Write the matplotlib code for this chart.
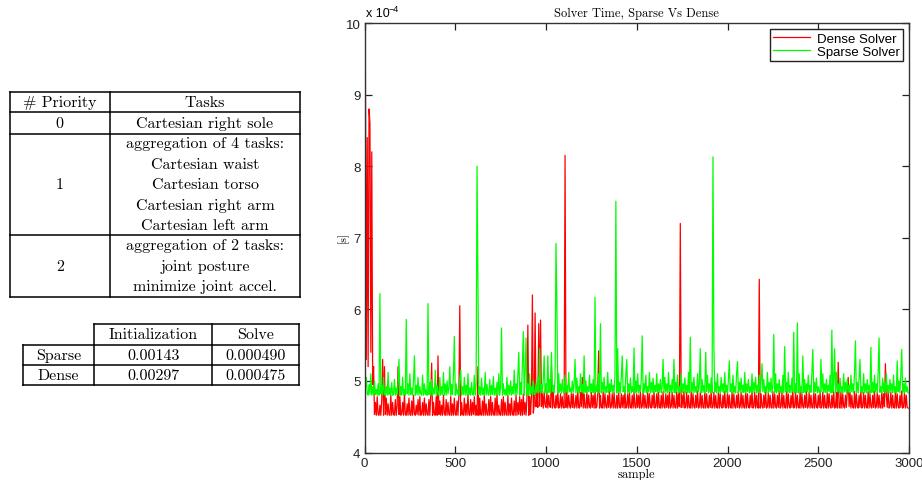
import numpy as np
import matplotlib
matplotlib.use("Agg")
import matplotlib.pyplot as plt

# ---------------- data (solver time, units of 1e-4 s, one value every 5 samples) -------------
sample_step = 5
dense_solver = [
    9.40, 9.30, 5.30, 8.40, 5.20, 8.80, 8.60, 5.40, 8.20, 4.95,
    5.20, 4.53, 4.70, 4.52, 4.78, 4.53, 4.52, 4.66, 4.52, 4.74,
    5.30, 4.52, 5.20, 4.53, 4.76, 4.52, 4.68, 4.53, 4.52, 4.80,
    4.52, 4.70, 4.53, 4.52, 4.74, 4.52, 4.66, 5.20, 4.53, 4.78,
    4.52, 4.54, 4.70, 4.52, 4.82, 4.53, 4.52, 4.68, 4.52, 4.76,
    4.53, 4.52, 4.72, 4.52, 4.80, 4.54, 4.52, 4.66, 4.53, 4.74,
    4.52, 4.78, 4.52, 4.53, 4.70, 4.52, 4.76, 4.52, 4.68, 4.53,
    4.52, 4.74, 4.52, 4.80, 5.25, 4.52, 4.70, 4.53, 4.52, 4.78,
    4.52, 5.35, 4.53, 4.72, 4.52, 4.66, 4.52, 4.80, 4.54, 4.52,
    4.74, 4.52, 4.70, 4.53, 4.52, 4.78, 4.52, 4.68, 4.52, 4.76,
    4.53, 4.52, 4.72, 4.52, 4.80, 6.05, 4.52, 4.70, 4.53, 4.52,
    4.76, 4.52, 4.68, 4.52, 4.82, 4.53, 4.52, 4.74, 4.52, 4.70,
    4.53, 4.78, 4.52, 4.66, 4.52, 5.20, 4.52, 4.76, 4.53, 4.52,
    4.72, 4.52, 4.80, 4.52, 4.68, 4.53, 4.52, 4.74, 4.52, 4.78,
    4.52, 4.70, 4.53, 4.52, 4.76, 4.52, 4.82, 4.52, 4.66, 4.53,
    4.52, 4.74, 4.52, 4.78, 4.52, 4.70, 4.53, 4.52, 4.80, 4.52,
    4.68, 4.52, 4.76, 4.53, 4.52, 4.72, 4.52, 4.80, 4.52, 4.70,
    4.53, 4.78, 4.52, 4.74, 4.52, 4.82, 4.53, 4.70, 4.52, 4.76,
    5.78, 4.52, 4.78, 4.53, 4.80, 6.20, 4.55, 4.66, 5.95, 4.64,
    4.84, 4.63, 5.80, 4.65, 5.85, 4.64, 4.82, 4.62, 4.85, 4.66,
    4.63, 4.84, 4.62, 4.80, 4.64, 4.63, 5.20, 4.62, 4.85, 4.64,
    4.62, 4.80, 4.63, 4.86, 4.62, 4.64, 4.82, 4.62, 4.78, 4.63,
    4.62, 8.15, 4.63, 4.84, 4.62, 4.80, 4.65, 4.62, 4.85, 4.63,
    4.82, 4.62, 4.64, 4.80, 4.62, 4.86, 4.63, 4.62, 4.84, 4.64,
    5.05, 4.62, 4.82, 4.63, 4.62, 4.85, 4.62, 4.80, 4.64, 4.62,
    4.84, 4.63, 4.80, 4.62, 4.86, 4.62, 4.64, 4.82, 5.42, 4.62,
    4.80, 4.63, 4.62, 4.85, 4.62, 4.82, 4.64, 4.62, 4.80, 4.63,
    4.86, 4.62, 4.64, 4.82, 4.62, 4.84, 4.63, 4.62, 4.80, 4.62,
    4.85, 4.64, 4.62, 4.82, 4.63, 4.80, 4.62, 4.86, 4.62, 4.64,
    4.82, 4.62, 4.84, 4.63, 4.62, 4.80, 4.62, 4.85, 4.64, 4.62,
    4.82, 4.63, 4.80, 4.62, 4.86, 4.62, 4.64, 4.84, 4.62, 4.80,
    4.63, 4.62, 4.85, 4.62, 4.82, 4.64, 4.62, 4.80, 4.63, 4.86,
    4.62, 4.64, 4.82, 4.62, 4.84, 4.63, 4.62, 4.80, 4.62, 4.85,
    4.64, 4.62, 4.82, 4.63, 4.80, 4.62, 4.86, 4.62, 4.64, 4.84,
    4.62, 4.80, 4.63, 4.62, 4.85, 4.62, 4.82, 4.64, 7.20, 4.63,
    4.80, 4.63, 4.86, 4.62, 4.64, 4.84, 4.62, 4.80, 4.63, 4.62,
    4.85, 4.62, 4.82, 4.64, 4.62, 4.80, 4.63, 4.86, 4.62, 4.64,
    4.84, 4.62, 4.80, 4.63, 4.62, 4.85, 4.62, 4.82, 4.64, 4.62,
    4.80, 4.63, 4.86, 4.62, 4.64, 4.84, 4.62, 4.80, 4.63, 4.62,
    4.85, 4.62, 4.82, 4.64, 4.62, 4.80, 4.63, 4.86, 4.62, 4.64,
    4.84, 4.62, 4.80, 4.63, 4.62, 4.85, 4.62, 4.82, 4.64, 4.62,
    4.80, 4.63, 4.86, 4.62, 4.64, 4.84, 4.62, 4.80, 4.63, 4.62,
    4.85, 4.62, 4.82, 4.64, 4.62, 4.80, 4.63, 4.86, 4.62, 4.64,
    4.84, 4.62, 4.80, 4.63, 4.62, 6.42, 4.62, 4.82, 4.64, 4.62,
    4.80, 4.63, 4.86, 4.62, 4.64, 4.84, 4.62, 4.80, 4.63, 4.62,
    4.85, 4.62, 4.82, 4.64, 4.62, 4.80, 4.63, 4.86, 4.62, 4.64,
    4.84, 4.62, 4.80, 4.63, 4.62, 4.85, 4.62, 4.82, 4.64, 4.62,
    4.80, 4.63, 4.86, 4.62, 4.64, 4.84, 4.62, 4.80, 4.63, 4.62,
    4.85, 4.62, 4.82, 4.64, 4.62, 4.80, 4.63, 4.86, 4.62, 4.64,
    4.84, 4.62, 4.80, 4.63, 4.62, 4.85, 4.62, 4.82, 4.64, 4.62,
    4.80, 4.63, 4.86, 4.62, 4.64, 4.84, 4.62, 4.80, 4.63, 4.62,
    4.85, 4.62, 4.82, 4.64, 4.62, 4.80, 4.63, 4.86, 4.62, 4.64,
    4.84, 4.62, 5.26, 4.63, 4.62, 4.85, 4.62, 4.82, 4.64, 4.62,
    4.80, 4.63, 4.86, 5.05, 4.64, 4.84, 4.62, 4.80, 4.63, 4.62,
    4.85, 4.62, 4.82, 4.64, 4.62, 4.80, 4.63, 4.86, 4.62, 4.64,
    4.84, 4.62, 4.80, 4.63, 4.62, 4.85, 4.62, 4.82, 4.64, 4.62,
    4.80, 4.63, 4.86, 4.62, 4.64, 4.84, 4.62, 4.80, 4.63, 4.62,
    4.85, 4.62, 4.82, 4.64, 5.24, 4.80, 4.63, 4.86, 4.62, 4.64,
    4.84, 4.62, 4.80, 4.63, 4.62, 4.85, 4.62, 4.82, 4.64, 4.62,
    4.80, 4.63, 4.86, 4.62, 4.64, 4.84, 4.62, 4.80, 4.63, 4.62,
]
sparse_solver = [
    5.50, 4.90, 5.05, 4.82, 4.80, 4.95, 4.81, 5.10, 4.80, 4.92,
    4.80, 5.00, 4.81, 4.88, 4.80, 4.96, 4.80, 6.22, 4.82, 4.94,
    4.80, 5.05, 4.81, 4.80, 4.92, 4.80, 5.12, 4.81, 4.90, 4.80,
    4.98, 4.80, 4.82, 5.02, 4.80, 4.90, 4.81, 4.96, 5.30, 4.80,
    4.92, 4.80, 5.05, 4.81, 4.88, 4.80, 5.86, 4.82, 4.96, 4.80,
    5.10, 4.81, 4.90, 4.80, 5.00, 5.35, 4.80, 4.94, 4.81, 5.05,
    4.80, 4.92, 4.82, 4.80, 5.08, 4.80, 4.96, 4.81, 4.88, 4.80,
    6.08, 4.81, 4.98, 4.80, 5.02, 4.80, 4.90, 4.82, 5.15, 4.80,
    4.94, 4.81, 4.80, 5.05, 4.80, 4.92, 4.81, 5.12, 4.80, 4.96,
    4.80, 5.00, 4.82, 4.90, 5.20, 4.80, 4.95, 4.81, 5.08, 5.62,
    4.80, 4.96, 4.81, 4.88, 4.80, 5.02, 5.15, 4.80, 4.92, 4.81,
    5.05, 4.80, 4.94, 4.80, 5.10, 4.81, 4.90, 4.80, 4.98, 4.82,
    4.80, 5.08, 4.80, 4.96, 8.00, 6.35, 4.81, 4.92, 4.80, 5.04,
    4.81, 4.90, 4.80, 5.12, 4.80, 4.95, 4.82, 4.80, 5.02, 4.80,
    4.94, 4.81, 5.06, 4.80, 4.90, 4.80, 4.98, 4.81, 5.10, 4.80,
    4.92, 5.74, 4.80, 4.96, 4.81, 4.88, 4.80, 5.05, 4.80, 4.94,
    4.81, 5.00, 4.80, 4.92, 4.82, 5.15, 4.80, 4.96, 4.81, 5.08,
    5.40, 4.80, 4.98, 4.81, 5.25, 5.69, 4.80, 5.10, 5.60, 4.81,
    4.96, 4.80, 5.10, 4.81, 4.92, 4.80, 5.00, 4.81, 4.84, 4.96,
    4.83, 5.05, 4.84, 5.45, 4.83, 4.95, 4.84, 5.02, 5.35, 4.83,
    4.96, 4.83, 5.35, 4.84, 5.02, 4.83, 5.40, 4.85, 4.94, 4.83,
    5.05, 6.92, 6.05, 4.83, 5.10, 4.84, 4.96, 4.83, 5.02, 4.85,
    4.83, 5.08, 4.84, 4.94, 4.83, 5.12, 4.85, 4.90, 4.83, 5.00,
    4.84, 4.96, 5.30, 4.83, 5.04, 4.84, 4.92, 4.83, 5.10, 4.85,
    4.95, 4.83, 5.35, 4.84, 5.00, 4.83, 4.92, 4.85, 5.08, 4.83,
    4.96, 4.84, 5.02, 4.83, 6.17, 4.85, 4.94, 4.83, 5.10, 4.84,
    5.80, 4.83, 4.98, 4.85, 5.05, 4.83, 4.92, 4.84, 5.12, 4.83,
    4.96, 4.85, 5.02, 4.83, 4.94, 4.84, 5.08, 7.51, 4.83, 5.45,
    4.84, 4.98, 4.83, 5.05, 5.35, 4.85, 4.92, 4.83, 5.10, 5.30,
    4.83, 4.96, 4.84, 5.04, 4.83, 4.92, 4.85, 5.46, 4.83, 5.00,
    4.84, 5.10, 4.83, 4.94, 4.85, 5.02, 5.63, 4.83, 4.96, 4.84,
    5.08, 4.83, 4.92, 4.85, 5.12, 4.83, 4.98, 4.84, 5.04, 4.83,
    4.94, 4.85, 5.10, 4.83, 4.96, 4.84, 5.02, 4.83, 4.92, 5.30,
    4.83, 5.05, 4.84, 4.96, 4.83, 5.12, 4.85, 4.94, 4.83, 5.02,
    4.84, 5.30, 4.83, 4.98, 4.85, 5.08, 4.83, 4.92, 4.84, 5.10,
    4.83, 4.96, 4.85, 5.04, 4.83, 4.94, 4.84, 5.12, 4.83, 5.61,
    4.85, 4.98, 4.83, 5.05, 4.84, 4.92, 4.83, 5.10, 4.85, 4.96,
    5.45, 4.83, 5.02, 4.84, 4.94, 4.83, 5.40, 4.85, 5.08, 4.83,
    4.96, 4.84, 5.04, 4.83, 8.13, 5.49, 4.85, 4.98, 4.83, 5.10,
    4.84, 4.92, 4.83, 5.05, 4.85, 4.96, 4.83, 5.12, 4.84, 4.94,
    4.83, 5.02, 5.28, 4.85, 4.96, 4.83, 5.08, 4.84, 4.92, 4.83,
    5.10, 5.27, 4.83, 4.98, 4.85, 5.04, 4.83, 4.94, 4.84, 5.12,
    4.83, 4.96, 4.85, 5.02, 4.83, 4.92, 4.84, 5.10, 4.83, 4.98,
    4.85, 5.05, 4.83, 4.94, 4.84, 5.08, 4.83, 4.96, 5.24, 4.85,
    5.02, 4.83, 4.92, 4.84, 5.12, 4.83, 4.98, 4.85, 5.04, 4.83,
    4.94, 5.65, 4.84, 5.10, 4.83, 4.96, 4.85, 5.02, 4.83, 4.92,
    4.84, 5.08, 4.83, 5.48, 4.85, 4.98, 4.83, 5.12, 4.84, 4.94,
    4.83, 5.04, 4.85, 5.68, 4.83, 4.96, 4.84, 5.81, 4.83, 5.10,
    4.85, 4.92, 4.83, 5.35, 4.84, 5.02, 4.83, 4.96, 4.85, 5.08,
    4.83, 4.94, 4.84, 5.12, 5.44, 4.83, 4.98, 4.85, 5.04, 4.83,
    4.92, 4.84, 4.83, 5.30, 4.85, 5.10, 4.83, 4.96, 4.84, 5.02,
    4.83, 4.94, 4.85, 5.08, 4.83, 5.71, 4.84, 4.98, 5.45, 4.83,
    5.12, 4.85, 4.96, 4.83, 5.04, 4.84, 4.92, 4.83, 5.10, 4.85,
    4.98, 4.83, 5.02, 4.84, 4.94, 4.83, 5.08, 4.85, 4.96, 4.83,
    5.12, 5.56, 4.84, 4.98, 4.83, 5.04, 5.30, 4.85, 4.92, 4.83,
    5.10, 4.84, 4.96, 4.83, 5.02, 4.85, 4.94, 4.83, 5.47, 4.84,
    4.98, 4.83, 5.08, 4.85, 4.96, 4.83, 5.12, 5.60, 4.84, 4.92,
    4.83, 5.04, 4.85, 4.98, 4.83, 5.10, 4.84, 4.94, 4.83, 5.02,
    4.85, 4.96, 4.83, 5.08, 4.84, 4.92, 4.83, 5.28, 4.85, 5.00,
    4.83, 5.10, 5.44, 4.84, 4.96, 4.83, 5.04, 4.85, 4.92, 4.83,
]
series_labels = ["Dense Solver", "Sparse Solver"]
x_ticks = [0, 500, 1000, 1500, 2000, 2500, 3000]
y_ticks = [4, 5, 6, 7, 8, 9, 10]

# ---------------- table contents ----------------
priority_header = ["# Priority", "Tasks"]
priority_ids = ["0", "1", "2"]
priority_tasks = [
    ["Cartesian right sole"],
    ["aggregation of 4 tasks:", "Cartesian waist", "Cartesian torso",
     "Cartesian right arm", "Cartesian left arm"],
    ["aggregation of 2 tasks:", "joint posture", "minimize joint accel."],
]
timing_cols = ["Initialization", "Solve"]
timing_rows = ["Sparse", "Dense"]
timing_init = ["0.00143", "0.00297"]
timing_solve = ["0.000490", "0.000475"]

# ---------------- figure ----------------
W, H = 922, 481
fig = plt.figure(figsize=(W / 100, H / 100), dpi=100)

SERIF = ["cmr10", "DejaVu Serif"]
SANS = ["Liberation Sans", "DejaVu Sans"]

# overlay in pixel coordinates for the tables
ov = fig.add_axes([0, 0, 1, 1])
ov.set_xlim(0, W)
ov.set_ylim(H, 0)
ov.axis("off")

lw_tab = 1.1
def hline(y, x0, x1):
    ov.plot([x0, x1], [y, y], color="black", lw=lw_tab, solid_capstyle="projecting")
def vline(x, y0, y1):
    ov.plot([x, x], [y0, y1], color="black", lw=lw_tab, solid_capstyle="projecting")

tfs = 11.5
# table 1
t1_left, t1_mid, t1_right = 9.5, 110, 300
t1_rows_y = [92.7, 113.3, 135, 236, 297.7]
for y in t1_rows_y:
    hline(y, t1_left, t1_right)
for x in (t1_left, t1_mid, t1_right):
    vline(x, t1_rows_y[0], t1_rows_y[-1])
c1 = (t1_left + t1_mid) / 2
c2 = (t1_mid + t1_right) / 2
ov.text(c1, 103, priority_header[0], family=SERIF, fontsize=tfs, ha="center", va="center")
ov.text(c2, 103, priority_header[1], family=SERIF, fontsize=tfs, ha="center", va="center")
line_gap = 20.5
for i, (pid, tasks) in enumerate(zip(priority_ids, priority_tasks)):
    y0, y1 = t1_rows_y[i + 1], t1_rows_y[i + 2]
    yc = (y0 + y1) / 2
    ov.text(c1, yc, pid, family=SERIF, fontsize=tfs, ha="center", va="center")
    n = len(tasks)
    for k, t in enumerate(tasks):
        ov.text(c2, yc + (k - (n - 1) / 2) * line_gap, t, family=SERIF,
                fontsize=tfs, ha="center", va="center")

# table 2
t2_l, t2_a, t2_b, t2_r = 22.7, 94.3, 212, 299
t2_y = [325, 345.7, 365.7, 386]
hline(t2_y[0], t2_a, t2_r)
for y in t2_y[1:]:
    hline(y, t2_l, t2_r)
vline(t2_l, t2_y[1], t2_y[-1])
for x in (t2_a, t2_b, t2_r):
    vline(x, t2_y[0], t2_y[-1])
cc = [(t2_l + t2_a) / 2, (t2_a + t2_b) / 2, (t2_b + t2_r) / 2]
for j, col in enumerate(timing_cols):
    ov.text(cc[j + 1], (t2_y[0] + t2_y[1]) / 2, col, family=SERIF, fontsize=tfs,
            ha="center", va="center")
for i, row in enumerate(timing_rows):
    yc = (t2_y[i + 1] + t2_y[i + 2]) / 2
    ov.text(cc[0], yc, row, family=SERIF, fontsize=tfs, ha="center", va="center")
    ov.text(cc[1], yc, timing_init[i], family=SERIF, fontsize=tfs, ha="center", va="center")
    ov.text(cc[2], yc, timing_solve[i], family=SERIF, fontsize=tfs, ha="center", va="center")

# ---------------- main plot ----------------
ax_l, ax_r, ax_t, ax_b = 364.5, 909, 24, 453.5
ax = fig.add_axes([ax_l / W, 1 - ax_b / H, (ax_r - ax_l) / W, (ax_b - ax_t) / H])
samples = np.arange(len(dense_solver)) * sample_step
ax.plot(samples, dense_solver, color="#ff0000", lw=0.9, label=series_labels[0])
ax.plot(samples, sparse_solver, color="#00ff00", lw=0.9, label=series_labels[1])
ax.set_xlim(0, 3000)
ax.set_ylim(4, 10)
ax.set_xticks(x_ticks)
ax.set_yticks(y_ticks)
ax.set_xticklabels([str(v) for v in x_ticks], family=SANS, fontsize=9.5)
ax.set_yticklabels([str(v) for v in y_ticks], family=SANS, fontsize=9.5)
ax.tick_params(direction="in", top=True, right=True, length=5, width=0.9,
               pad=3, colors="#222222")
for s in ax.spines.values():
    s.set_color("#333333")
    s.set_linewidth(1.0)

ax.set_title("Solver Time, Sparse Vs Dense", family=SERIF, fontsize=9, pad=5)
fig.text(366 / W, 1 - 14 / H, "x 10", family=SANS, fontsize=9, ha="left", va="center")
fig.text(388 / W, 1 - 9 / H, "\u22124", family=SANS, fontsize=6.5, ha="left", va="center")
fig.text(343 / W, 1 - 237 / H, "[s]", family=SERIF, fontsize=8.5, rotation=90,
         ha="center", va="center")
fig.text(636 / W, 1 - 481 / H, "sample", family=SERIF, fontsize=9, ha="center",
         va="bottom")

leg = ax.legend(loc="upper right", bbox_to_anchor=(903 / W, 1 - 30 / H),
                bbox_transform=fig.transFigure, borderaxespad=0, fancybox=False,
                framealpha=1, edgecolor="#222222", prop={"family": SANS, "size": 9.5},
                handlelength=2.8, labelspacing=0.1, borderpad=0.25, handletextpad=0.5)
leg.get_frame().set_linewidth(1.0)

fig.savefig("out.png", dpi=100)
